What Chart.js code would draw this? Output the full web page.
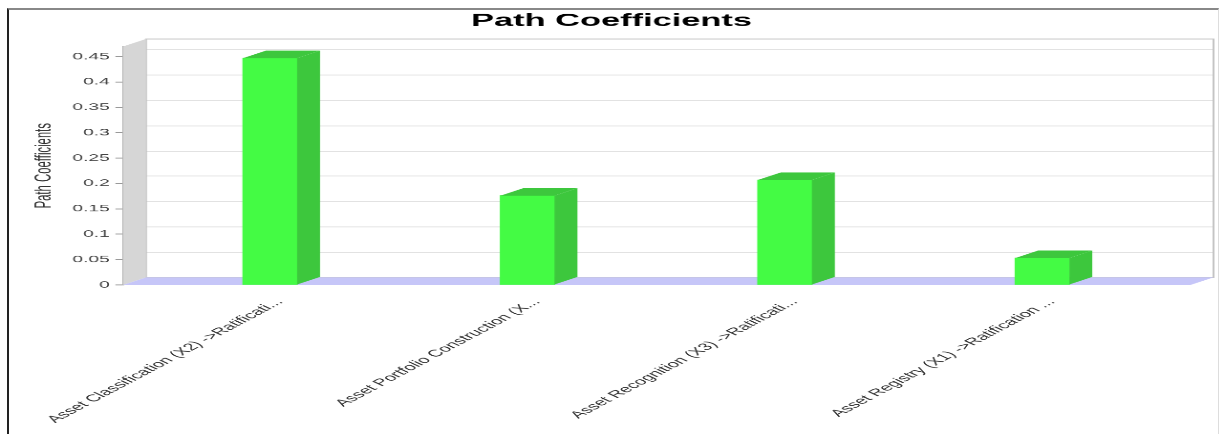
<!DOCTYPE html>
<html>
<head>
<meta charset="utf-8">
<script src="https://cdn.jsdelivr.net/npm/chart.js@4/dist/chart.umd.min.js"></script>
<style>
html, body { margin: 0; padding: 0; background: #fff; overflow: hidden; }
#wrap { position: absolute; left: 0; top: 0; width: 640px; height: 460px; transform: scale(1.911, 0.9435); transform-origin: 0 0; }
#frame { position: absolute; left: 7px; top: 8px; width: 1212px; height: 430px; box-sizing: border-box;
         border-left: 2px solid #222; border-top: 2px solid #888; border-right: 1px solid #ddd; }
</style>
</head>
<body>
<div id="wrap"><canvas id="chart"></canvas></div>
<div id="frame"></div>
<script>
const categories = [
    "Asset Classification (X2) ->Ratificati...",
    "Asset Portfolio Construction (X...",
    "Asset Recognition (X3) ->Ratificati...",
    "Asset Registry (X1) ->Ratification ..."
];
const coefficients = [0.447, 0.176, 0.207, 0.053];
const yTicks = [0, 0.05, 0.1, 0.15, 0.2, 0.25, 0.3, 0.35, 0.4, 0.45];

const FONT = "'Liberation Sans', Arial, sans-serif";
const DX = 12, DY = 8;          // 3d depth offset
const BAR_FRONT = "#44FB44";
const BAR_SIDE = "#3DC73D";
const WALL = "#D6D6D6";
const FLOOR = "#C6C6F8";

// walls, floor, back grid, and the top/side faces of the bars
const threeD = {
    id: "threeD",
    beforeDatasetsDraw(chart) {
        const { ctx, chartArea: a, scales: { y } } = chart;
        ctx.save();
        // back grid lines
        ctx.strokeStyle = "#E2E2E2";
        ctx.lineWidth = 1;
        yTicks.forEach(v => {
            if (v === 0) return;
            let py = Math.round(y.getPixelForValue(v) - DY) + 0.5;
            ctx.beginPath();
            ctx.moveTo(a.left + DX, py);
            ctx.lineTo(a.right + DX, py);
            ctx.stroke();
        });
        // back wall outline
        ctx.strokeStyle = "#C4C4C4";
        ctx.strokeRect(a.left + DX, a.top - DY, a.right - a.left, a.bottom - a.top);
        // left wall
        ctx.fillStyle = WALL;
        ctx.beginPath();
        ctx.moveTo(a.left, a.top);
        ctx.lineTo(a.left + DX, a.top - DY);
        ctx.lineTo(a.left + DX, a.bottom - DY);
        ctx.lineTo(a.left, a.bottom);
        ctx.closePath();
        ctx.fill();
        // floor
        ctx.fillStyle = FLOOR;
        ctx.beginPath();
        ctx.moveTo(a.left, a.bottom);
        ctx.lineTo(a.left + DX, a.bottom - DY);
        ctx.lineTo(a.right + DX, a.bottom - DY);
        ctx.lineTo(a.right, a.bottom);
        ctx.closePath();
        ctx.fill();
        ctx.restore();
    },
    afterDatasetsDraw(chart) {
        const { ctx } = chart;
        ctx.save();
        ctx.fillStyle = BAR_SIDE;
        chart.getDatasetMeta(0).data.forEach(bar => {
            const { x, y, base, width } = bar.getProps(["x", "y", "base", "width"], true);
            const l = x - width / 2, r = x + width / 2;
            // top
            ctx.beginPath();
            ctx.moveTo(l, y);
            ctx.lineTo(l + DX, y - DY);
            ctx.lineTo(r + DX, y - DY);
            ctx.lineTo(r, y);
            ctx.closePath();
            ctx.fill();
            // side
            ctx.beginPath();
            ctx.moveTo(r, y);
            ctx.lineTo(r + DX, y - DY);
            ctx.lineTo(r + DX, base - DY);
            ctx.lineTo(r, base);
            ctx.closePath();
            ctx.fill();
        });
        ctx.restore();
    }
};

new Chart(document.getElementById("chart"), {
    type: "bar",
    data: {
        datasets: [{
            label: "Path Coefficients",
            data: coefficients.map((v, i) => ({ x: i, y: v })),
            backgroundColor: BAR_FRONT,
            borderWidth: 0,
            barThickness: 28.3
        }]
    },
    options: {
        responsive: true,
        maintainAspectRatio: false,
        animation: false,
        devicePixelRatio: 2,
        layout: { padding: 0 },
        plugins: {
            legend: { display: false },
            tooltip: { enabled: false },
            title: {
                display: true,
                text: "Path Coefficients",
                color: "#000",
                font: { family: FONT, size: 18, weight: "bold" },
                padding: { top: 11.5, bottom: 16.2 }
            }
        },
        scales: {
            x: {
                type: "linear",
                offset: false,
                min: -0.571,
                max: 3.576,
                grid: { display: false },
                border: { display: false },
                afterBuildTicks: axis => { axis.ticks = categories.map((c, i) => ({ value: i })); },
                afterFit: axis => { axis.height = 158; },
                ticks: {
                    autoSkip: false,
                    minRotation: 47,
                    maxRotation: 47,
                    padding: 4,
                    labelOffset: 5,
                    color: "#333",
                    font: { family: FONT, size: 10.5 },
                    callback: v => categories[v]
                }
            },
            y: {
                min: 0,
                max: 0.47,
                afterBuildTicks: axis => { axis.ticks = yTicks.map(v => ({ value: v })); },
                afterFit: axis => { axis.width = 64.4; },
                grid: { display: true, drawOnChartArea: false, tickLength: 4, color: "#999" },
                border: { display: true, color: "#AAA" },
                ticks: {
                    padding: 3,
                    color: "#444",
                    font: { family: FONT, size: 10 },
                    callback: v => String(+v.toFixed(2))
                },
                title: {
                    display: true,
                    text: "Path Coefficients",
                    color: "#333",
                    font: { family: FONT, size: 12 },
                    padding: { top: 16, bottom: 0 }
                }
            },
            // empty right-hand strip that leaves room for the 3d depth
            depth: {
                position: "right",
                grid: { display: false },
                border: { display: false },
                ticks: { display: false },
                afterFit: axis => { axis.width = 17; }
            }
        }
    },
    plugins: [threeD]
});
</script>
</body>
</html>
